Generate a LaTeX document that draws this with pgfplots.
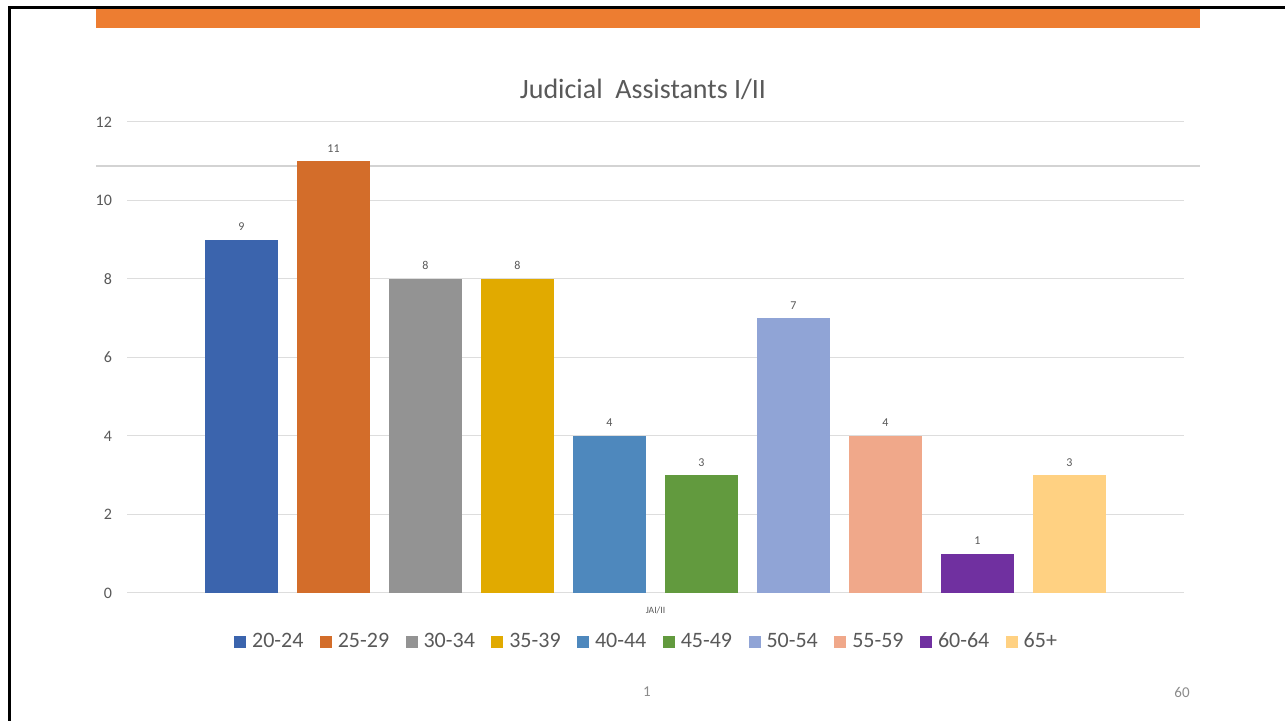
\documentclass[border=0pt]{standalone}
\usepackage{pgfplots}
\pgfplotsset{compat=1.18}
\usepackage{fontspec}
\setmainfont{Carlito}

\definecolor{txt}{HTML}{595959}
\definecolor{gridc}{HTML}{DDDDDD}
\definecolor{slideline}{HTML}{D3D3D3}
\definecolor{topbar}{HTML}{ED7D31}
\definecolor{cA}{HTML}{3B64AD}
\definecolor{cB}{HTML}{D36D2A}
\definecolor{cC}{HTML}{939393}
\definecolor{cD}{HTML}{E1AA00}
\definecolor{cE}{HTML}{4E88BD}
\definecolor{cF}{HTML}{629A3E}
\definecolor{cG}{HTML}{90A4D6}
\definecolor{cH}{HTML}{F0A88A}
\definecolor{cI}{HTML}{7030A0}
\definecolor{cJ}{HTML}{FFD182}

\begin{document}
\begin{tikzpicture}
% slide frame, 1 unit = 1 px of the reference, y counted from the bottom
\begin{scope}[x=0.5pt,y=0.5pt]
\path[use as bounding box] (0,0) rectangle (1285,721);
\fill[white] (0,0) rectangle (1285,721);
\draw[black, line width=1.5pt] (9.5,0) -- (9.5,713.5) -- (1285,713.5);
\fill[topbar] (96,693) rectangle (1200,712);
\draw[slideline, line width=1pt] (96,554.5) -- (1200,554.5);
\node[text=txt, font=\fontsize{14}{16}\selectfont] at (643,632) {Judicial\ \ Assistants I/II};
\node[text=txt!70, font=\fontsize{7.5}{9}\selectfont] at (647,29) {1};
\node[text=txt!70, font=\fontsize{7.5}{9}\selectfont] at (1182,29) {60};
\end{scope}

\begin{axis}[
    at={(63.5pt,64pt)}, anchor=south west,
    scale only axis,
    width=528.5pt, height=235.5pt,
    xmin=-1.245, xmax=10.245,
    ymin=0, ymax=12,
    axis line style={draw=none},
    ytick={0,2,...,12},
    xtick={4.5}, xticklabels={JAI/II},
    major tick length=0pt,
    xmajorgrids=false,
    ymajorgrids=true,
    major grid style={draw=gridc, line width=0.5pt},
    /pgf/number format/assume math mode=true,
    yticklabel style={text=txt, font=\fontsize{8}{9}\selectfont, xshift=-4pt},
    xticklabel style={text=txt, font=\fontsize{4.8}{5}\selectfont, yshift=-3.5pt},
    ybar, bar width=36.5pt, bar shift=0pt,
    every axis plot/.append style={draw=none},
    nodes near coords,
    nodes near coords style={text=txt, font=\fontsize{6}{7}\selectfont, yshift=1pt},
    legend columns=10,
    legend style={at={(0.492,-0.104)}, anchor=center, draw=none, fill=none,
        font=\fontsize{11}{13}\selectfont, text=txt,
        /tikz/every odd column/.append style={column sep=1.5pt},
        /tikz/every even column/.append style={column sep=6.7pt},
        nodes={inner sep=1.5pt}},
    legend image code/.code={\fill[#1] (0pt,-3pt) rectangle (6pt,3pt);},
]
\addplot[fill=cA] coordinates {(0,9)};
\addplot[fill=cB] coordinates {(1,11)};
\addplot[fill=cC] coordinates {(2,8)};
\addplot[fill=cD] coordinates {(3,8)};
\addplot[fill=cE] coordinates {(4,4)};
\addplot[fill=cF] coordinates {(5,3)};
\addplot[fill=cG] coordinates {(6,7)};
\addplot[fill=cH] coordinates {(7,4)};
\addplot[fill=cI] coordinates {(8,1)};
\addplot[fill=cJ] coordinates {(9,3)};
\legend{20-24,25-29,30-34,35-39,40-44,45-49,50-54,55-59,60-64,65+}
\end{axis}
\end{tikzpicture}
\end{document}
